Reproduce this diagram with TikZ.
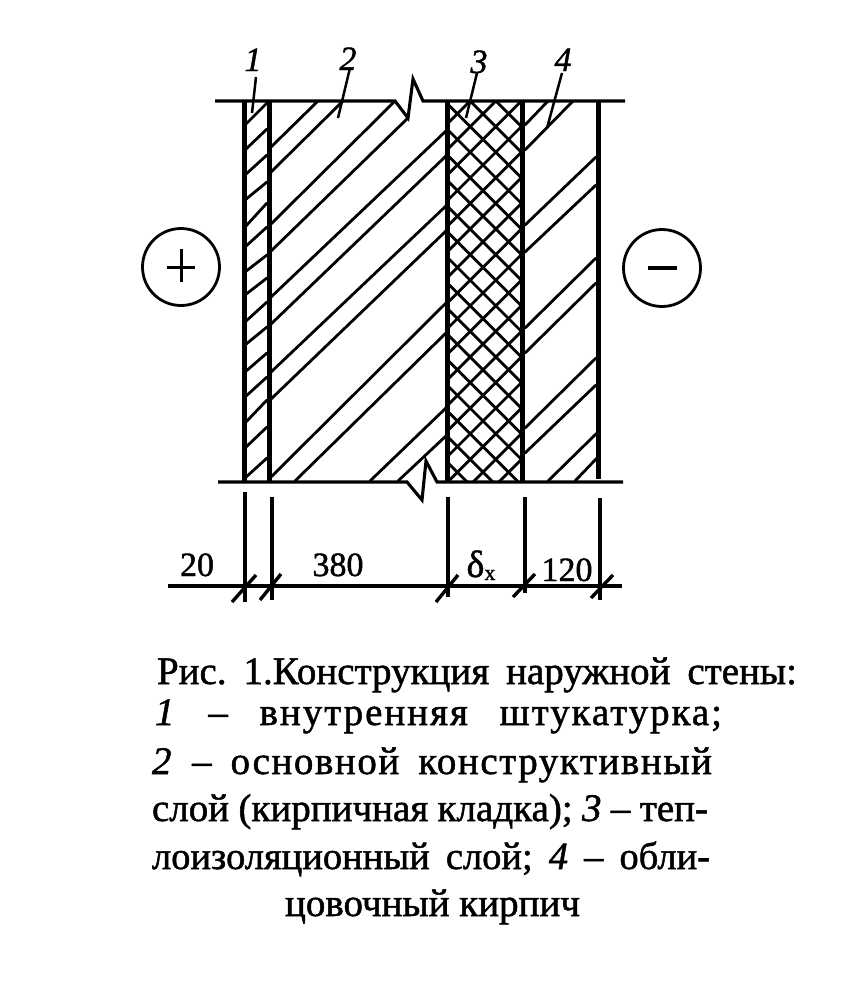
\documentclass[tikz,border=0pt]{standalone}
\usepackage{fontspec}
\setmainfont{Liberation Serif}[FakeBold=1.3]
\usetikzlibrary{calc}
\tikzset{
  x=1pt,y=-1pt,
  wall/.style={line width=5pt,line cap=butt},
  hatch/.style={line width=2.8pt,line cap=round},
  thinl/.style={line width=3.1pt,line cap=butt},
  leader/.style={line width=2.5pt},
  txt/.style={inner sep=0pt,outer sep=0pt,anchor=base},
  capl/.style={inner sep=0pt,outer sep=0pt,anchor=base west},
  sign/.style={circle,draw,line width=2.8pt,minimum size=77pt,inner sep=0pt}
}
\newcommand{\capline}[4]{\node[capl] at (#1,#2) {\makebox[#3][s]{\frenchspacing\fontsize{39}{42}\selectfont #4}};}
\newcommand{\bigf}{\fontsize{34}{36}\selectfont}
\newcommand{\capf}{\fontsize{39}{42}\selectfont}
\begin{document}
\begin{tikzpicture}
\useasboundingbox (0,0) rectangle (860,1007);
% horizon lines with breaks
\draw[thinl,line join=miter] (215,101) -- (395,101) -- (408,118) -- (413,79) -- (423,101) -- (625,101);
\draw[thinl,line join=miter] (218,482) -- (407,482) -- (422,500) -- (426,461) -- (437,482) -- (623,482);
% layer 1 hatch
\foreach \a/\b in {103/125,129/150,155/175,182/200,203/227,227/247,255/272,278/295,302/322,327/345,353/372,377/397,400/423,427/448,458/478}
  \draw[hatch] (267,\a) -- (245,\b);
% layer 2 hatch
\foreach \xa/\ya/\xb/\yb in {318/101/270/148,343/101/270/173,395/101/270/225,408/118/270/252,447/130/270/298,447/155/270/325,447/205/270/373,447/230/270/400,447/302/270/478,447/332/295/481,447/407/370/481,447/435/398/481}
  \draw[hatch] (\xa,\ya) -- (\xb,\yb);
% layer 4 hatch
\foreach \xa/\ya/\xb/\yb in {548/101/525/125,573/101/525/150,596/157/525/225,596/185/525/252,596/258/525/328,596/283/525/353,596/358/525/428,596/385/525/453,597/433/548/481,597/458/575/481}
  \draw[hatch] (\xa,\ya) -- (\xb,\yb);
% layer 3 cross hatch
\begin{scope}
  \clip (447,101) rectangle (523,482);
  \foreach \k in {-14,...,8} {
    \pgfmathsetmacro{\c}{776+25.6*\k}
    \draw[hatch,line cap=butt] (440,\c-440) -- (530,\c-530);
  }
  \foreach \k in {-10,...,12} {
    \pgfmathsetmacro{\d}{-190+25.6*\k}
    \draw[hatch,line cap=butt] (440,\d+440) -- (530,\d+530);
  }
\end{scope}
% walls
\draw[wall] (244,101) -- (244,481);
\draw[wall] (269,101) -- (269,481);
\draw[wall] (447,101) -- (447,481);
\draw[wall] (522,101) -- (522,481);
\draw[wall] (598,101) -- (598,479);
% labels with leaders
\node[txt] (n1) at (253,71) {\bigf\itshape 1};
\node[txt] (n2) at (348,70) {\bigf\itshape 2};
\node[txt] (n3) at (479,73) {\bigf\itshape 3};
\node[txt] (n4) at (563,71) {\bigf\itshape 4};
\coordinate (e1) at (252,113); \coordinate (e2) at (338,118);
\coordinate (e3) at (466,118); \coordinate (e4) at (547,128);
\draw[leader] (256,77) -- (e1);
\draw[leader] (350,68) -- (e2);
\draw[leader] (477,73) -- (e3);
\draw[leader] (562,73) -- (e4);
% sign circles
\node[sign] (plus) at (181,267) {};
\node[sign] (minus) at (662,268) {};
\draw[line width=3pt] ($(plus)+(-14,0)$) -- ($(plus)+(14,0)$);
\draw[line width=3pt] ($(plus)+(0,-18)$) -- ($(plus)+(0,15)$);
\draw[line width=3.2pt] ($(minus)+(-14,0)$) -- ($(minus)+(15,0)$);
% dimensions
\draw[thinl] (168,586) -- (622,586);
\foreach \x/\ya/\yb in {245/492/602,272/497/600,448/497/597,525/497/593,600/498/600}
  \draw[thinl] (\x,\ya) -- (\x,\yb);
\foreach \xa/\ya/\xb/\yb in {232/602/256/575,260/600/281/574,436/602/458/575,513/597/535/574,591/598/613/575}
  \draw[line width=3.4pt] (\xa,\ya) -- (\xb,\yb);
\node[txt] (d20) at (197,576) {\bigf 20};
\node[txt] (d380) at (338,576) {\bigf 380};
\node[txt] (dx) at (481,577) {\fontsize{38}{40}\selectfont δ\raisebox{-3pt}{\fontsize{22}{24}\selectfont x}};
\node[txt] (d120) at (567,581) {\bigf 120};
% caption
\capline{157}{684}{640pt}{Рис. 1.Конструкция наружной стены:}
\capline{155}{725}{567pt}{\addfontfeature{LetterSpace=5}\textit{1} – внутренняя штукатурка;}
\capline{152}{774}{560pt}{\addfontfeature{LetterSpace=4}\textit{2} – основной конструктивный}
\capline{152}{821}{556pt}{слой (кирпичная кладка); \textit{3} – теп-}
\capline{152}{869}{558pt}{\fontsize{38.5}{42}\selectfont лоизоляционный слой; \textit{4} – обли-}
\node[capl] (c6) at (285,916) {\capf цовочный кирпич};
\end{tikzpicture}
\end{document}
